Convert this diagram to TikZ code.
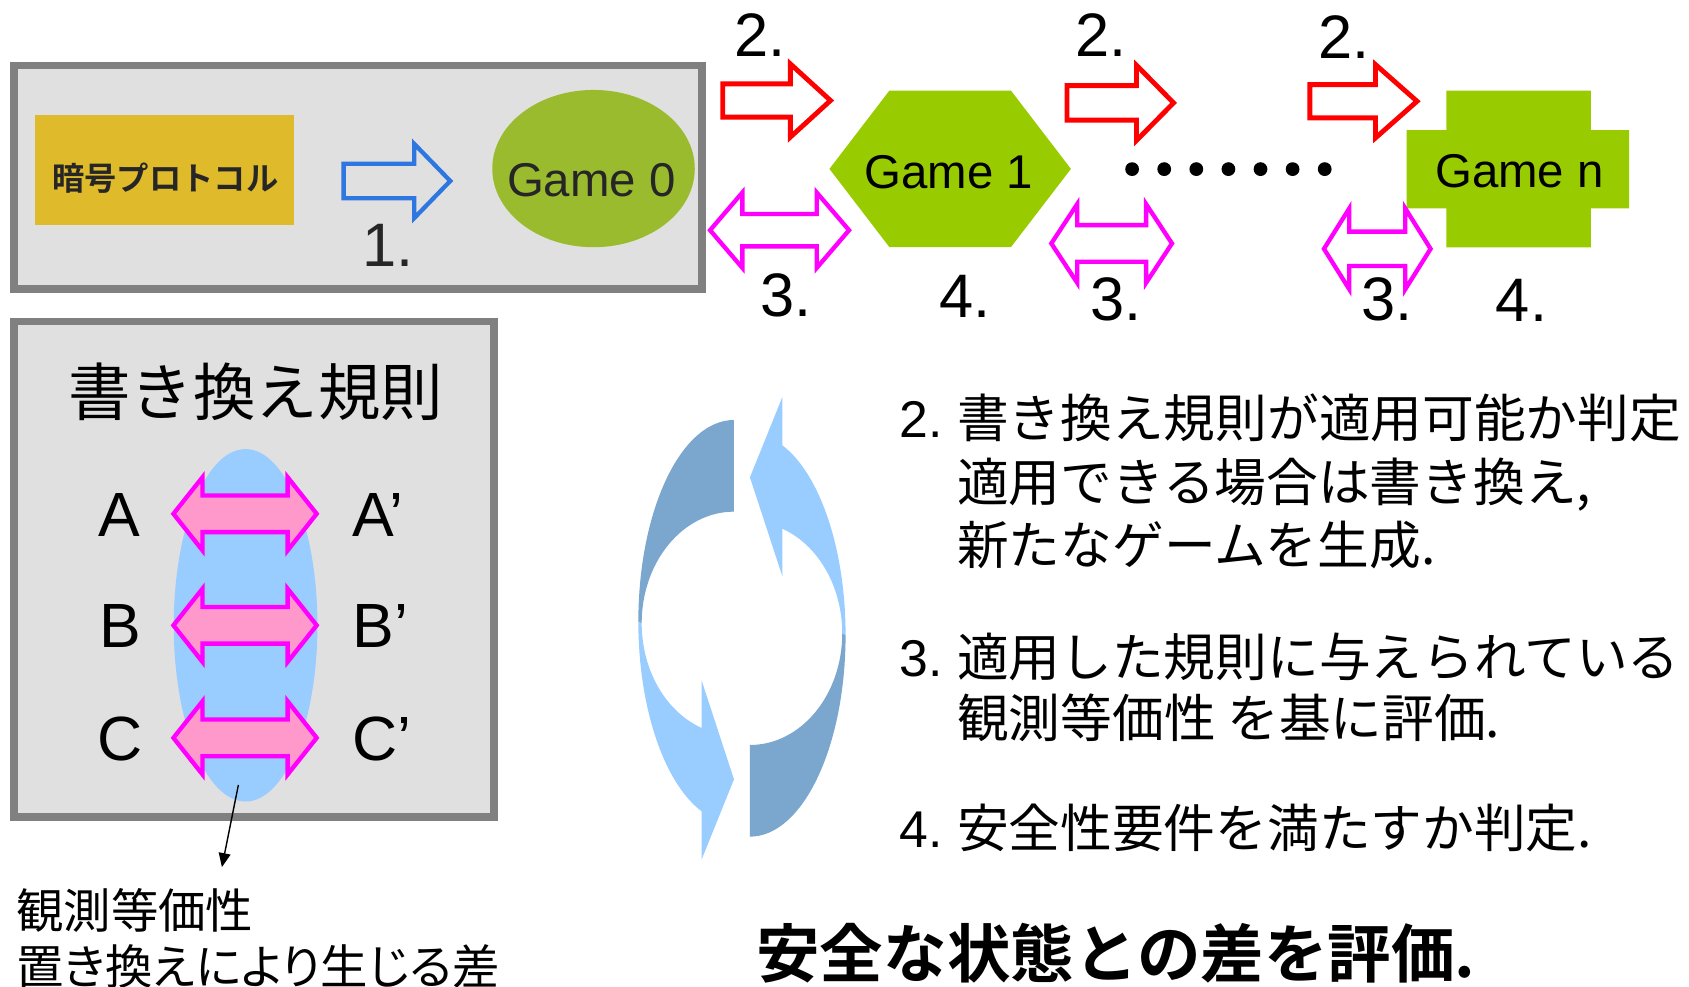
\documentclass[tikz,border=0pt]{standalone}
\usepackage{fontspec}
\setmainfont{Liberation Sans}
\newfontfamily\jp{Noto Sans CJK JP}[BoldFont={Noto Sans CJK JP Bold}]
\newfontfamily\jpp{Noto Sans CJK JP}[RawFeature=+palt]
\usetikzlibrary{shapes.geometric,arrows.meta}

\definecolor{boxfill}{HTML}{E0E0E0}
\definecolor{boxline}{HTML}{808080}
\definecolor{gold}{HTML}{DFBA2A}
\definecolor{gzero}{HTML}{9BBB2F}
\definecolor{gone}{HTML}{99CC00}
\definecolor{blueline}{HTML}{2F77E0}
\definecolor{pinkfill}{HTML}{FF99CC}
\definecolor{lightblue}{HTML}{99CCFF}
\definecolor{cycdark}{HTML}{7BA6CD}
\definecolor{txtgray}{HTML}{262626}
\definecolor{mag}{RGB}{255,0,255}
\definecolor{pure red}{RGB}{255,0,0}

% single right block arrow: style, x0, xbase, xtip, yc, shaft half, head half
\newcommand{\blockR}[7]{%
  \draw[#1] ({#2},{#5-#6}) -- ({#3},{#5-#6}) -- ({#3},{#5-#7}) -- ({#4},{#5})
    -- ({#3},{#5+#7}) -- ({#3},{#5+#6}) -- ({#2},{#5+#6}) -- cycle;}
% double block arrow: style, cx, cy, half length, head length, shaft half, head half
\newcommand{\blockLR}[7]{%
  \draw[#1] ({#2-#4},{#3}) -- ({#2-#4+#5},{#3-#7}) -- ({#2-#4+#5},{#3-#6})
    -- ({#2+#4-#5},{#3-#6}) -- ({#2+#4-#5},{#3-#7}) -- ({#2+#4},{#3})
    -- ({#2+#4-#5},{#3+#7}) -- ({#2+#4-#5},{#3+#6}) -- ({#2-#4+#5},{#3+#6})
    -- ({#2-#4+#5},{#3+#7}) -- cycle;}
% one half of the cycle symbol
\newcommand{\cyclehalf}{%
  \fill[cycdark] (681.4,389.9) arc[start angle=-90, end angle=-180, x radius=88.8, y radius=187.2]
    -- (595.7,578.7) arc[start angle=-180, end angle=-90, x radius=85.7, y radius=103.7] -- cycle;
  \fill[lightblue] (592.6,577.1) arc[start angle=-180, end angle=-250.2, x radius=88.8, y radius=187.2]
    -- (651.4,797.8) -- (681.4,723.5) -- (651.4,631.9) -- (651.4,675.8)
    arc[start angle=-249.5, end angle=-180, x radius=85.7, y radius=103.7] -- cycle;}

\tikzset{
  panel/.style={draw=boxline, line width=7pt, fill=boxfill},
  redarr/.style={draw=pure red, line width=4.5pt, line join=miter},
  bluearr/.style={draw=blueline, line width=4pt, line join=miter},
  magarr/.style={draw=mag, line width=4pt, line join=miter},
  pinkarr/.style={draw=mag, fill=pinkfill, line width=4pt, line join=miter},
  numlab/.style={inner sep=0, font=\fontsize{57}{60}\selectfont},
  gametxt/.style={inner sep=0, font=\fontsize{44}{48}\selectfont},
  letter/.style={inner sep=0, font=\fontsize{58}{62}\selectfont},
  rt/.style={anchor=west, inner sep=0, font=\fontsize{48}{56}\selectfont},
  obstxt/.style={anchor=west, inner sep=0, font={\jp\fontsize{44}{52}\selectfont}},
}

\begin{document}
\begin{tikzpicture}[x=1pt,y=-1pt]
\useasboundingbox (0,0) rectangle (1568,916);

% ---- top-left panel ----
\draw[panel] (12.9,60.8) rectangle (651.6,268.2);
\node[fill=gold, minimum width=241pt, minimum height=102pt, inner sep=0, anchor=north west] (proto) at (32,107) {};
\node[inner sep=0, text=txtgray, font={\jp\bfseries\fontsize{30}{34}\selectfont}] (protot) at (153.5,165.5) {暗号プロトコル};
\blockR{bluearr}{319}{384.5}{418}{168}{16}{34.5}
\node[numlab, text=txtgray] (n1) at (360,228) {1.};
\node[ellipse, fill=gzero, minimum width=188pt, minimum height=146pt, inner sep=0] (g0) at (551,156.5) {};
\node[gametxt, text=txtgray] (g0t) at (549,167) {Game 0};

% ---- game chain ----
\fill[gone] (770,156.8) -- (825.6,84.2) -- (938.6,84.2) -- (994.2,156.8) -- (938.6,229.3) -- (825.6,229.3) -- cycle;
\node[gametxt] (g1) at (881,160) {Game 1};
\fill[gone] (1342.7,84.2) -- (1476.9,84.2) -- (1476.9,120.7) -- (1512.5,120.7) -- (1512.5,193.4)
  -- (1476.9,193.4) -- (1476.9,229.6) -- (1342.7,229.6) -- (1342.7,193.4) -- (1305.8,193.4)
  -- (1305.8,120.7) -- (1342.7,120.7) -- cycle;
\node[gametxt] (gn) at (1410.7,158.6) {Game n};
\foreach \i in {0,...,6} \fill ({1051+29.8*\i},157) circle (6.4);

\blockR{redarr}{671}{733.7}{771}{93.3}{15.4}{34}
\blockR{redarr}{990.5}{1055}{1089.5}{95.5}{16}{35}
\blockR{redarr}{1216}{1277}{1315.5}{94}{15.4}{34}
\blockLR{magarr}{723.7}{213.7}{64.5}{30}{15}{35}
\blockLR{magarr}{1032}{226}{56}{24}{17}{36.5}
\blockLR{magarr}{1278.6}{231}{49.5}{23.5}{16}{37.5}

\node[numlab] (a2) at (705.5,33) {2.};
\node[numlab] (b2) at (1022,33) {2.};
\node[numlab] (c2) at (1248,34) {2.};
\node[numlab] (a3) at (730,274.5) {3.};
\node[numlab] (b3) at (1036.4,277.6) {3.};
\node[numlab] (c3) at (1287.6,277.6) {3.};
\node[numlab] (a4) at (895.9,275) {4.};
\node[numlab] (b4) at (1412.5,278.5) {4.};

% ---- rules panel ----
\draw[panel] (12.8,298.5) rectangle (458.5,758.5);
\node[inner sep=0, font={\jp\fontsize{58}{62}\selectfont}] (title) at (237.5,363.5) {書き換え規則};
\node[ellipse, fill=lightblue, minimum width=133.4pt, minimum height=327.2pt, inner sep=0] (obsell) at (228,580.5) {};
\blockLR{pinkarr}{227.5}{477}{66.5}{27}{17}{34}
\blockLR{pinkarr}{227.5}{580.5}{66.5}{27}{17}{34}
\blockLR{pinkarr}{227.5}{685}{66.5}{27}{17}{34}
\node[letter] (A) at (111,478) {A};
\node[letter] (B) at (111.4,581) {B};
\node[letter] (C) at (111.4,686) {C};
\node[letter, anchor=west] (Ap) at (327,478) {A’};
\node[letter, anchor=west] (Bp) at (327,581) {B’};
\node[letter, anchor=west] (Cp) at (327,686) {C’};

\coordinate (ps) at (221.3,728.7);
\coordinate (pe) at (206,805);
\draw[line width=1.3pt, -{Triangle[length=13pt,width=11pt]}] (ps) -- (pe);
\node[obstxt] (obs1) at (15,845) {観測等価性};
\node[obstxt, font={\jpp\fontsize{44}{52}\selectfont}] (obs2) at (15,897) {置き換えにより生じる差};

% ---- cycle symbol ----
\cyclehalf
\begin{scope}[rotate around={180:(688.8,583.3)}]
\cyclehalf
\end{scope}

% ---- explanation ----
\node[rt] (t1) at (835,387.5) {2.\ {\jp 書き換え規則が適用可能か判定}};
\node[rt] (t2) at (888.5,450.2) {\jp 適用できる場合は書き換え,};
\node[rt] (t3) at (888.5,506) {\jp 新たなゲームを生成.};
\node[rt] (t4) at (835,609.6) {3.\ {\jp 適用した規則に与えられている}};
\node[rt] (t5) at (888.5,666.8) {\jp 観測等価性 を基に評価.};
\node[rt] (t6) at (835,769) {4.\ {\jp 安全性要件を満たすか判定.}};

\node[anchor=west, inner sep=0, font={\jp\bfseries\fontsize{59}{64}\selectfont}] (concl) at (702,885) {安全な状態との差を評価.};
\end{tikzpicture}
\end{document}
